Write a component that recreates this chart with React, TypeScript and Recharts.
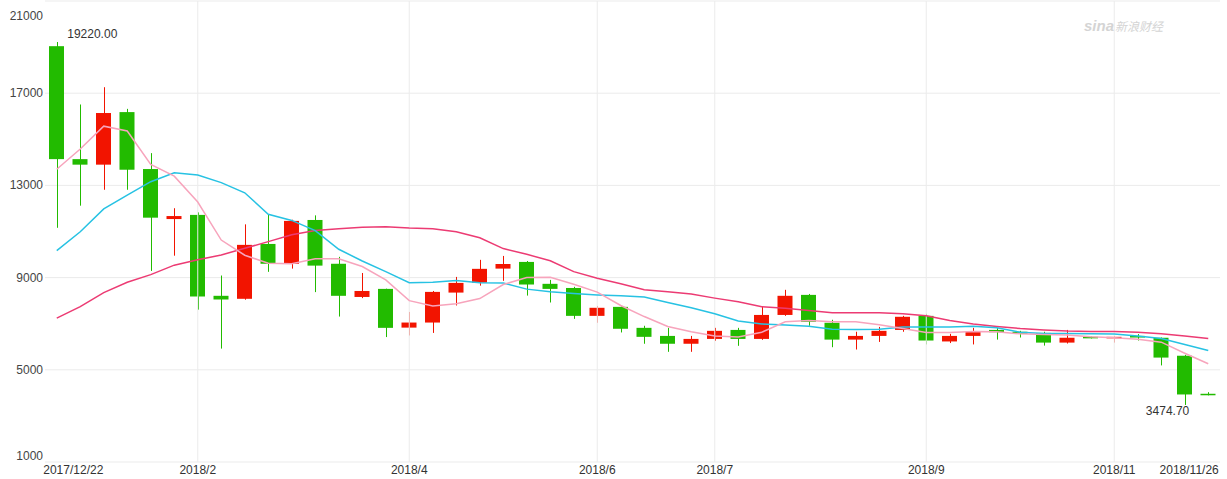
import {
  Bar,
  CartesianGrid,
  ComposedChart,
  Label,
  Line,
  ReferenceDot,
  ReferenceLine,
  XAxis,
  YAxis,
} from "recharts";

// weekly candles, 2017/12/22 - 2018/11/26
const dates = [
  "2017/12/22", "2017/12/25", "2018/1/1", "2018/1/8", "2018/1/15", "2018/1/22", "2018/1/29",
  "2018/2/5", "2018/2/12", "2018/2/19", "2018/2/26", "2018/3/5", "2018/3/12", "2018/3/19",
  "2018/3/26", "2018/4/2", "2018/4/9", "2018/4/16", "2018/4/23", "2018/4/30", "2018/5/7",
  "2018/5/14", "2018/5/21", "2018/5/28", "2018/6/4", "2018/6/11", "2018/6/18", "2018/6/25",
  "2018/7/2", "2018/7/9", "2018/7/16", "2018/7/23", "2018/7/30", "2018/8/6", "2018/8/13",
  "2018/8/20", "2018/8/27", "2018/9/3", "2018/9/10", "2018/9/17", "2018/9/24", "2018/10/1",
  "2018/10/8", "2018/10/15", "2018/10/22", "2018/10/29", "2018/11/5", "2018/11/12",
  "2018/11/19", "2018/11/26",
];

const opens = [
  19040, 14140, 13900, 16180, 13710, 11540, 11720, 8210, 8080, 10460, 9600, 11500, 9600, 8160,
  8510, 6830, 7050, 8350, 8780, 9390, 9680, 8730, 8550, 7340, 7730, 6820, 6470, 6130, 6340,
  6730, 6340, 7380, 8250, 7040, 6310, 6470, 6730, 7340, 6230, 6470, 6730, 6650, 6600, 6180,
  6430, 6400, 6470, 6390, 5610, 3960,
];
const highs = [
  19220, 16510, 17260, 16320, 14400, 12010, 11830, 9090, 11310, 11750, 11510, 11700, 9900, 9200,
  8520, 7510, 8420, 9030, 9770, 9940, 9720, 8900, 8600, 7770, 7750, 6910, 6820, 6470, 6820,
  6820, 7730, 8470, 8290, 7170, 6650, 6860, 7340, 7430, 6560, 6820, 6820, 6690, 6650, 6730,
  6440, 6470, 6550, 6400, 5650, 4030,
];
const lows = [
  11160, 12120, 12810, 12810, 9290, 9950, 7610, 5920, 8040, 9250, 9390, 8370, 7310, 8110,
  6420, 6490, 6600, 7790, 8650, 8860, 8220, 7920, 7210, 7040, 6620, 6130, 5780, 5780, 6260,
  6040, 6300, 7340, 6910, 5980, 5880, 6210, 6650, 6100, 6160, 6100, 6310, 6400, 6050, 6140,
  6360, 6180, 6270, 5190, 3474.7, 3890,
];
const closes = [
  14140, 13900, 16140, 13680, 11600, 11670, 8180, 8050, 10420, 9600, 11460, 9520, 8210, 8420,
  6820, 7050, 8380, 8770, 9380, 9590, 8700, 8510, 7340, 7690, 6780, 6430, 6130, 6340, 6690,
  6340, 7380, 8210, 7080, 6310, 6470, 6690, 7300, 6270, 6470, 6650, 6630, 6560, 6180, 6390,
  6400, 6430, 6400, 5530, 3930, 3930,
];

const ma5 = [
  13700, 14580, 15570, 15360, 13910, 13400, 12280, 10630, 9970, 9620, 9600, 9820, 9820, 9480,
  8900, 8000, 7770, 7870, 8090, 8700, 9000, 9010, 8710, 8370, 7790, 7310, 6880, 6650, 6470,
  6420, 6630, 7080, 7140, 7080, 7080, 6950, 6790, 6620, 6620, 6660, 6650, 6560, 6530, 6510,
  6430, 6390, 6330, 6200, 5720, 5260,
];
const ma10 = [
  10170, 10990, 11980, 12580, 13160, 13550, 13450, 13120, 12680, 11750, 11480, 11040, 10230,
  9720, 9260, 8780, 8800, 8870, 8780, 8770, 8500, 8390, 8310, 8250, 8210, 8160, 7920, 7690,
  7430, 7120, 6990, 6940, 6890, 6760, 6750, 6760, 6860, 6860, 6860, 6890, 6820, 6630, 6570,
  6570, 6560, 6550, 6470, 6360, 6100, 5840,
];
const ma20 = [
  7240, 7740, 8350, 8800, 9130, 9540, 9770, 9980, 10270, 10560, 10860, 11040, 11120, 11180,
  11210, 11150, 11120, 10990, 10730, 10260, 10010, 9730, 9260, 8970, 8730, 8470, 8390, 8290,
  8110, 7950, 7740, 7670, 7570, 7480, 7480, 7470, 7430, 7340, 7140, 6990, 6880, 6790, 6730,
  6680, 6660, 6660, 6630, 6560, 6470, 6360,
];

const xTicks = [
  "2017/12/22", "2018/1/29", "2018/4/2", "2018/5/28", "2018/7/2", "2018/9/3", "2018/10/29",
  "2018/11/26",
];
const xTickLabels = [
  "2017/12/22", "2018/2", "2018/4", "2018/6", "2018/7", "2018/9", "2018/11", "2018/11/26",
];
const yTicks = [1000, 5000, 9000, 13000, 17000, 21000];

const UP = "#f21400";
const DOWN = "#22bb00";

const rows = dates.map((date, i) => ({
  date,
  range: [lows[i], highs[i]],
  open: opens[i],
  high: highs[i],
  low: lows[i],
  close: closes[i],
  ma5: ma5[i],
  ma10: ma10[i],
  ma20: ma20[i],
}));

const maxIdx = highs.indexOf(Math.max(...highs));
const minIdx = lows.indexOf(Math.min(...lows));

const Candle = (props: any) => {
  const { x, y, width, height, payload } = props;
  if (!payload) return null;
  const top = Math.min(y, y + height);
  const h = Math.abs(height);
  const { open, close, high, low } = payload;
  const ratio = h / (high - low || 1);
  const bodyTop = top + (high - Math.max(open, close)) * ratio;
  const bodyBottom = top + (high - Math.min(open, close)) * ratio;
  const color = close > open ? UP : DOWN;
  const cx = Math.round(x + width / 2) + 0.5;
  return (
    <g>
      <line x1={cx} x2={cx} y1={top} y2={top + h} stroke={color} strokeWidth={1} />
      <rect
        x={x}
        y={bodyTop}
        width={width}
        height={Math.max(1.5, bodyBottom - bodyTop)}
        fill={color}
      />
    </g>
  );
};

const XTick = ({ x, y, payload }: any) => {
  const i = xTicks.indexOf(payload.value);
  let anchor = "middle";
  let tx = x;
  if (i === 0) {
    anchor = "start";
    tx = x - 13.5;
  } else if (i === xTicks.length - 1) {
    anchor = "end";
    tx = x + 10.5;
  }
  return (
    <text x={tx} y={y + 12} textAnchor={anchor} fill="#333" fontSize={12}>
      {xTickLabels[i]}
    </text>
  );
};

const YTick = ({ x, y, payload }: any) => {
  let dy = 4;
  if (payload.value === 21000) dy = 11;
  if (payload.value === 1000) dy = -2;
  return (
    <text x={x} y={y + dy} textAnchor="end" fill="#444" fontSize={12}>
      {payload.value}
    </text>
  );
};

export default function App() {
  return (
    <div
      style={{
        position: "absolute",
        left: 0,
        top: 0,
        width: 1227,
        height: 479,
        background: "#fff",
        fontFamily: "'Liberation Sans', Arial, sans-serif",
      }}
    >
      <ComposedChart
        width={1227}
        height={479}
        data={rows}
        margin={{ top: 1, right: 7, bottom: 0, left: 0 }}
      >
        <CartesianGrid vertical={false} stroke="#ebebeb" />
        {xTicks.slice(1, -1).map((t) => (
          <ReferenceLine key={t} x={t} stroke="#ebebeb" />
        ))}
        <XAxis
          dataKey="date"
          ticks={xTicks}
          interval={0}
          height={17}
          tickSize={0}
          tickMargin={0}
          axisLine={false}
          tickLine={false}
          tick={<XTick />}
        />
        <YAxis
          domain={[1000, 21000]}
          ticks={yTicks}
          width={45}
          tickSize={0}
          tickMargin={2}
          axisLine={false}
          tickLine={false}
          tick={<YTick />}
        />
        <Bar dataKey="range" barSize={15} shape={<Candle />} isAnimationActive={false} />
        <Line
          dataKey="ma20"
          stroke="#ec3b73"
          strokeWidth={1.5}
          dot={false}
          activeDot={false}
          isAnimationActive={false}
        />
        <Line
          dataKey="ma10"
          stroke="#27c2e3"
          strokeWidth={1.5}
          dot={false}
          activeDot={false}
          isAnimationActive={false}
        />
        <Line
          dataKey="ma5"
          stroke="#f7a4bc"
          strokeWidth={1.5}
          dot={false}
          activeDot={false}
          isAnimationActive={false}
        />
        <ReferenceDot x={dates[maxIdx]} y={highs[maxIdx]} r={0} stroke="none">
          <Label
            content={({ viewBox }: any) => (
              <text x={viewBox.x + 10.5} y={viewBox.y - 4} fill="#333" fontSize={12}>
                {highs[maxIdx].toFixed(2)}
              </text>
            )}
          />
        </ReferenceDot>
        <ReferenceDot x={dates[minIdx]} y={lows[minIdx]} r={0} stroke="none">
          <Label
            content={({ viewBox }: any) => (
              <text
                x={viewBox.x + 4.5}
                y={viewBox.y + 10}
                textAnchor="end"
                fill="#333"
                fontSize={12}
              >
                {lows[minIdx].toFixed(2)}
              </text>
            )}
          />
        </ReferenceDot>
      </ComposedChart>
      <div
        style={{
          position: "absolute",
          left: 1084,
          top: 16,
          color: "#d4d4d4",
          whiteSpace: "nowrap",
          lineHeight: "20px",
        }}
      >
        <span style={{ fontSize: 15, fontWeight: "bold", fontStyle: "italic" }}>sina</span>
        <span
          style={{
            fontSize: 12,
            fontStyle: "italic",
            fontFamily: "'Noto Sans CJK SC', sans-serif",
            marginLeft: 1,
          }}
        >
          新浪财经
        </span>
      </div>
    </div>
  );
}
